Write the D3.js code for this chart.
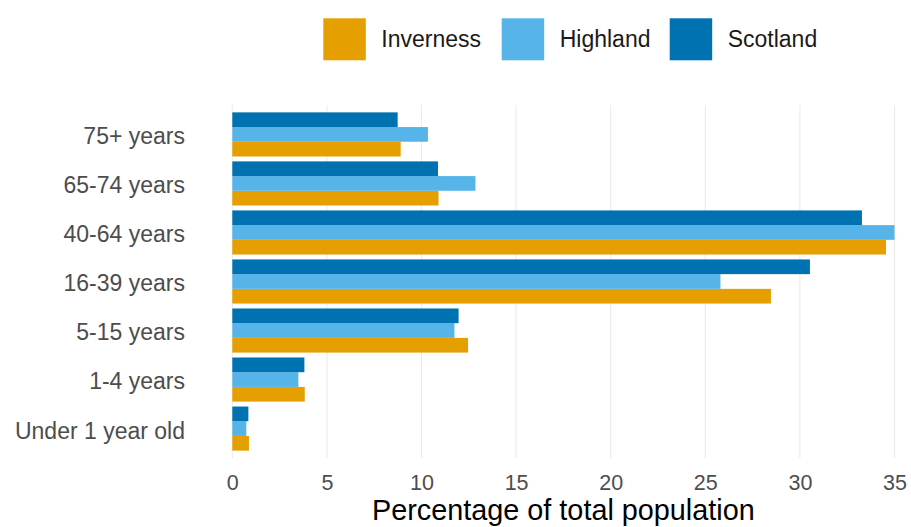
<!DOCTYPE html>
<html>
<head>
<meta charset="utf-8">
<script src="https://cdn.jsdelivr.net/npm/d3@7"></script>
<style>
  html, body { margin: 0; padding: 0; background: #fff; }
  svg { display: block; font-family: "Liberation Sans", Arial, sans-serif; }
</style>
</head>
<body>
<svg id="chart" width="911" height="527"></svg>
<script>
const categories = ["Under 1 year old", "1-4 years", "5-15 years", "16-39 years", "40-64 years", "65-74 years", "75+ years"];
const seriesNames = ["Inverness", "Highland", "Scotland"];
const inverness = [0.88, 3.83, 12.46, 28.47, 34.55, 10.9, 8.9];
const highland  = [0.74, 3.49, 11.74, 25.8, 35.0, 12.85, 10.34];
const scotland  = [0.85, 3.81, 11.96, 30.53, 33.28, 10.87, 8.74];
const xTicks = [0, 5, 10, 15, 20, 25, 30, 35];
const colors = ["#E69F00", "#56B4E9", "#0072B2"];

const seriesValues = [inverness, highland, scotland];
const data = [];
categories.forEach((c, i) => {
  seriesNames.forEach((s, j) => data.push({ cat: c, series: s, value: seriesValues[j][i] }));
});

const svg = d3.select("#chart");
const panel = { left: 232.3, right: 894.5, top: 105, bottom: 458 };

const x = d3.scaleLinear().domain([0, 35]).range([panel.left, panel.right]);

const n = categories.length;
const step = (panel.bottom - panel.top) / (n - 1 + 1.2);
const yCenter = d3.scalePoint().domain(categories).range([panel.bottom - 0.6 * step, panel.top + 0.6 * step]);
const groupH = step * 0.9;
const inner = d3.scaleBand().domain(["Scotland", "Highland", "Inverness"]).range([0, groupH]).padding(0);
const color = d3.scaleOrdinal().domain(seriesNames).range(colors);

// gridlines
svg.append("g").selectAll("line").data(xTicks).join("line")
  .attr("x1", d => x(d)).attr("x2", d => x(d))
  .attr("y1", panel.top).attr("y2", panel.bottom)
  .attr("stroke", "#ebebeb").attr("stroke-width", 1.1);

// bars
svg.append("g").selectAll("rect").data(data).join("rect")
  .attr("x", x(0))
  .attr("y", d => yCenter(d.cat) - groupH / 2 + inner(d.series))
  .attr("width", d => x(d.value) - x(0))
  .attr("height", inner.bandwidth())
  .attr("fill", d => color(d.series));

// x axis labels
const xAxis = d3.axisBottom(x).tickValues(xTicks).tickSize(0).tickPadding(0);
const gx = svg.append("g").attr("transform", `translate(0,490)`).call(xAxis);
gx.select(".domain").remove();
gx.selectAll("text").attr("font-size", 21.5).attr("fill", "#4d4d4d")
  .attr("font-family", "Liberation Sans, Arial, sans-serif").attr("dy", 0).attr("y", 0);

// y axis labels
const yAxis = d3.axisLeft(yCenter).tickSize(0).tickPadding(0);
const gy = svg.append("g").attr("transform", `translate(185,0)`).call(yAxis);
gy.select(".domain").remove();
gy.selectAll("text").attr("font-size", 23).attr("fill", "#4d4d4d")
  .attr("font-family", "Liberation Sans, Arial, sans-serif").attr("dy", "0.41em").attr("x", 0);

// axis title
svg.append("text")
  .attr("x", (panel.left + panel.right) / 2).attr("y", 520)
  .attr("text-anchor", "middle").attr("font-size", 28.8).attr("fill", "#000")
  .text("Percentage of total population");

// legend
const legendX = [323.3, 501.7, 669.7];
const legend = svg.append("g").selectAll("g").data(seriesNames).join("g")
  .attr("transform", (d, i) => `translate(${legendX[i]},18.3)`);
legend.append("rect").attr("width", 42.5).attr("height", 42).attr("fill", d => color(d));
legend.append("text").attr("x", 58).attr("y", 29.2)
  .attr("font-size", 23).attr("fill", "#1a1a1a").text(d => d);
</script>
</body>
</html>
